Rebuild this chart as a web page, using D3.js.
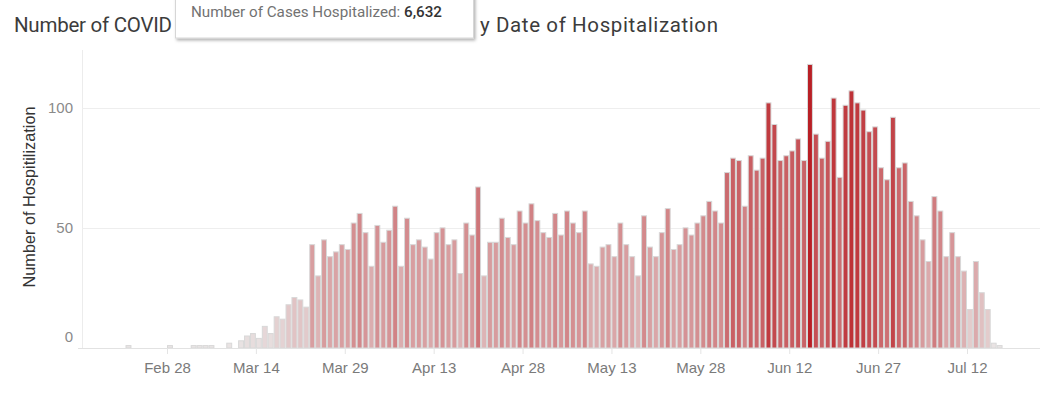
<!DOCTYPE html>
<html>
<head>
<meta charset="utf-8">
<script src="https://cdn.jsdelivr.net/npm/d3@7"></script>
<style>
  body { margin: 0; background: #ffffff; }
  svg { display: block; }
</style>
</head>
<body>
<svg id="chart" width="1049" height="394"></svg>
<script>
// ---------------- data ----------------
const dates = [
  "2020-02-21","2020-02-28","2020-03-03","2020-03-04","2020-03-05","2020-03-06",
  "2020-03-09","2020-03-11","2020-03-12","2020-03-13","2020-03-14","2020-03-15",
  "2020-03-16","2020-03-17","2020-03-18","2020-03-19","2020-03-20","2020-03-21",
  "2020-03-22","2020-03-23","2020-03-24","2020-03-25","2020-03-26","2020-03-27",
  "2020-03-28","2020-03-29","2020-03-30","2020-03-31","2020-04-01","2020-04-02",
  "2020-04-03","2020-04-04","2020-04-05","2020-04-06","2020-04-07","2020-04-08",
  "2020-04-09","2020-04-10","2020-04-11","2020-04-12","2020-04-13","2020-04-14",
  "2020-04-15","2020-04-16","2020-04-17","2020-04-18","2020-04-19","2020-04-20",
  "2020-04-21","2020-04-22","2020-04-23","2020-04-24","2020-04-25","2020-04-26",
  "2020-04-27","2020-04-28","2020-04-29","2020-04-30","2020-05-01","2020-05-02",
  "2020-05-03","2020-05-04","2020-05-05","2020-05-06","2020-05-07","2020-05-08",
  "2020-05-09","2020-05-10","2020-05-11","2020-05-12","2020-05-13","2020-05-14",
  "2020-05-15","2020-05-16","2020-05-17","2020-05-18","2020-05-19","2020-05-20",
  "2020-05-21","2020-05-22","2020-05-23","2020-05-24","2020-05-25","2020-05-26",
  "2020-05-27","2020-05-28","2020-05-29","2020-05-30","2020-05-31","2020-06-01",
  "2020-06-02","2020-06-03","2020-06-04","2020-06-05","2020-06-06","2020-06-07",
  "2020-06-08","2020-06-09","2020-06-10","2020-06-11","2020-06-12","2020-06-13",
  "2020-06-14","2020-06-15","2020-06-16","2020-06-17","2020-06-18","2020-06-19",
  "2020-06-20","2020-06-21","2020-06-22","2020-06-23","2020-06-24","2020-06-25",
  "2020-06-26","2020-06-27","2020-06-28","2020-06-29","2020-06-30","2020-07-01",
  "2020-07-02","2020-07-03","2020-07-04","2020-07-05","2020-07-06","2020-07-07",
  "2020-07-08","2020-07-09","2020-07-10","2020-07-11","2020-07-12","2020-07-13",
  "2020-07-14","2020-07-15","2020-07-16","2020-07-17"
];
const hospitalized = [
  1,1,1,1,1,1,
  2,3,5,6,4,9,
  6,13,12,18,21,20,
  17,43,30,45,38,40,
  43,41,52,56,48,34,
  51,44,49,59,34,54,
  43,45,42,37,48,50,
  43,45,31,52,47,67,
  30,44,44,54,46,43,
  57,52,60,53,48,46,
  56,47,57,52,48,57,
  35,34,42,43,38,52,
  43,38,30,55,42,38,
  48,58,41,43,50,47,
  52,55,61,57,52,73,
  79,78,59,80,74,79,
  102,93,78,80,82,87,
  78,118,89,79,86,104,
  71,101,107,102,99,90,
  92,75,70,96,75,77,
  61,55,45,36,63,57,
  38,48,38,32,16,36,
  23,16,2,1
];
const xTickDates = ["2020-02-28","2020-03-14","2020-03-29","2020-04-13","2020-04-28",
                    "2020-05-13","2020-05-28","2020-06-12","2020-06-27","2020-07-12"];
const yTicks = [0, 50, 100];
const titleVisibleStart = "Number of COVID";
const titleVisibleEnd = "y Date of Hospitalization";
const yAxisTitle = "Number of Hospitilization";
const tooltipLabel = "Number of Cases Hospitalized: ";
const tooltipValue = "6,632";

// ---------------- setup ----------------
const svg = d3.select("#chart");
const parse = d3.utcParse("%Y-%m-%d");
const fmt = d3.utcFormat("%b %-d");
const rows = dates.map((d, i) => ({ date: parse(d), value: hospitalized[i] }));

const plot = { left: 82, right: 1040, top: 50, bottom: 348 };

const x = d3.scaleUtc()
  .domain([parse("2020-02-28"), parse("2020-07-12")])
  .range([167, 967]);
const y = d3.scaleLinear().domain([0, 124]).range([plot.bottom, plot.top]);

const color = d3.scaleLinear()
  .domain([1, 118])
  .range(["#e9e5e5", "#b91f25"])
  .interpolate(d3.interpolateRgb);

const axisFont = "'Liberation Sans', Arial, sans-serif";
const titleFont = "Roboto, 'Noto Sans', sans-serif";

// vertical axis line
svg.append("line")
  .attr("x1", plot.left + 0.5).attr("x2", plot.left + 0.5)
  .attr("y1", plot.top).attr("y2", plot.bottom)
  .attr("stroke", "#ececec").attr("stroke-width", 1);

// gridlines
svg.append("g").selectAll("line")
  .data(yTicks.filter(t => t > 0))
  .join("line")
  .attr("x1", plot.left).attr("x2", plot.right)
  .attr("y1", d => Math.round(y(d)) + 0.5).attr("y2", d => Math.round(y(d)) + 0.5)
  .attr("stroke", "#eeeeee").attr("stroke-width", 1);

// bars
const dayW = x(d3.utcDay.offset(parse("2020-02-28"), 1)) - x(parse("2020-02-28"));
svg.append("g").selectAll("rect")
  .data(rows)
  .join("rect")
  .attr("x", d => x(d.date) + 0.5)
  .attr("width", dayW - 1)
  .attr("y", d => y(d.value))
  .attr("height", d => y(0) - y(d.value))
  .attr("fill", d => color(d.value))
  .attr("stroke", "#d8d8d8")
  .attr("stroke-width", 1);

// zero line
svg.append("line")
  .attr("x1", plot.left - 4).attr("x2", plot.right)
  .attr("y1", plot.bottom + 0.5).attr("y2", plot.bottom + 0.5)
  .attr("stroke", "#e2e2e2").attr("stroke-width", 1);

// x axis
const xAxis = d3.axisBottom(x)
  .tickValues(xTickDates.map(parse))
  .tickFormat(fmt)
  .tickSize(6)
  .tickPadding(8);
const gx = svg.append("g")
  .attr("transform", `translate(0,${plot.bottom})`)
  .call(xAxis);
gx.select(".domain").remove();
gx.selectAll(".tick line").attr("stroke", "#e4e4e4");
gx.selectAll(".tick text")
  .attr("fill", "#7a7a7a")
  .style("font-family", axisFont)
  .style("font-size", "15px");

// y axis
const yAxis = d3.axisLeft(y).tickValues(yTicks).tickSize(0).tickPadding(8);
const gy = svg.append("g")
  .attr("transform", `translate(${plot.left - 1},0)`)
  .call(yAxis);
gy.select(".domain").remove();
gy.selectAll(".tick text")
  .attr("fill", "#8a8a8a")
  .style("font-family", axisFont)
  .style("font-size", "15px")
  .attr("dy", d => d === 0 ? "-0.45em" : "0.32em");

// y axis title
svg.append("text")
  .attr("transform", `translate(35,197) rotate(-90)`)
  .attr("text-anchor", "middle")
  .attr("fill", "#333333")
  .style("font-family", axisFont)
  .style("font-size", "16.3px")
  .text(yAxisTitle);

// title (only the parts not covered by the tooltip are visible in the reference)
const title = svg.append("text")
  .attr("y", 32)
  .attr("fill", "#3c3c3c")
  .style("font-family", titleFont)
  .style("font-size", "20.5px");
title.append("tspan").attr("x", 14)
  .attr("textLength", 158).attr("lengthAdjust", "spacing")
  .text(titleVisibleStart);
title.append("tspan").attr("x", 480)
  .attr("textLength", 238).attr("lengthAdjust", "spacing")
  .text(titleVisibleEnd);

// tooltip
const defs = svg.append("defs");
const f = defs.append("filter").attr("id", "shadow")
  .attr("x", "-5%").attr("y", "-20%").attr("width", "115%").attr("height", "160%");
f.append("feDropShadow")
  .attr("dx", 1.5).attr("dy", 2).attr("stdDeviation", 1.5)
  .attr("flood-color", "#000").attr("flood-opacity", 0.3);

const tip = svg.append("g");
tip.append("rect")
  .attr("x", 175.5).attr("y", -5)
  .attr("width", 298).attr("height", 43)
  .attr("fill", "#ffffff")
  .attr("stroke", "#d6d6d6")
  .attr("filter", "url(#shadow)");
const tt = tip.append("text")
  .attr("x", 191).attr("y", 17)
  .style("font-family", titleFont)
  .style("font-size", "15.2px");
tt.append("tspan").attr("fill", "#727272").text(tooltipLabel);
tt.append("tspan").attr("fill", "#333333").style("font-weight", 500).text(tooltipValue);
</script>
</body>
</html>
